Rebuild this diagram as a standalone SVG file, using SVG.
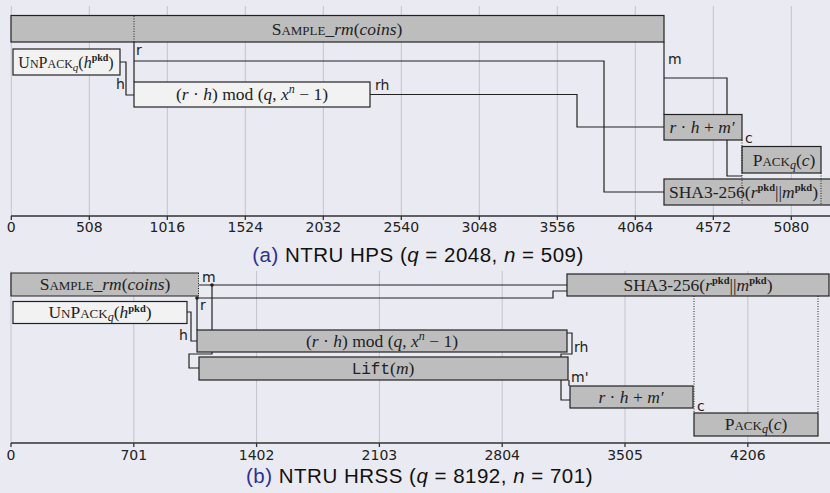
<svg xmlns="http://www.w3.org/2000/svg" width="830" height="493" viewBox="0 0 830 493">
<style>
.grid{stroke:#c4c4cc;stroke-width:1;fill:none}
.axis{stroke:#333;stroke-width:1.3;fill:none}
.tick{font-family:"DejaVu Sans",sans-serif;font-size:14px;fill:#222;text-anchor:middle}
.lbl{font-family:"DejaVu Sans",sans-serif;font-size:14px;fill:#222}
.gbox{fill:#bdbdbd;stroke:#222;stroke-width:1.2}
.lbox{fill:#f2f2f2;stroke:#222;stroke-width:1.2}
.conn{stroke:#222;stroke-width:1.2;fill:none}
.dot{stroke:#222;stroke-width:1;fill:none;stroke-dasharray:1 1.5}
.m{font-family:"Liberation Serif","DejaVu Serif",serif;font-size:17.5px;fill:#222;text-anchor:middle}
.i{font-style:italic}
.sc{font-size:13px}
.sub{font-size:12px;font-style:italic}
.sup{font-family:"Liberation Serif","DejaVu Serif",serif;font-size:10.5px;font-weight:bold}
.tt{font-family:"Liberation Mono","DejaVu Sans Mono",monospace;font-size:16px}
.cap{font-family:"Liberation Sans",Arial,sans-serif;font-size:20.5px;letter-spacing:0.5px;fill:#111;text-anchor:middle}
</style>
<rect width="830" height="493" fill="#eaeaf2"/>

<!-- ===== Top chart (a) ===== -->
<g id="grid-a">
<path class="grid" d="M11.3,6V216M89.3,6V216M167.3,6V216M245.3,6V216M323.3,6V216M401.3,6V216M479.3,6V216M557.3,6V216M635.3,6V216M713.3,6V216M791.3,6V216"/>
<path class="axis" d="M11,216H830M11.3,216v4M89.3,216v4M167.3,216v4M245.3,216v4M323.3,216v4M401.3,216v4M479.3,216v4M557.3,216v4M635.3,216v4M713.3,216v4M791.3,216v4"/>
<text class="tick" x="11.3" y="232">0</text>
<text class="tick" x="89.3" y="232">508</text>
<text class="tick" x="167.3" y="232">1016</text>
<text class="tick" x="245.3" y="232">1524</text>
<text class="tick" x="323.3" y="232">2032</text>
<text class="tick" x="401.3" y="232">2540</text>
<text class="tick" x="479.3" y="232">3048</text>
<text class="tick" x="557.3" y="232">3556</text>
<text class="tick" x="635.3" y="232">4064</text>
<text class="tick" x="713.3" y="232">4572</text>
<text class="tick" x="791.3" y="232">5080</text>
</g>

<g id="connectors-a">
<path class="conn" d="M134,42V82"/>
<path class="conn" d="M134,61H604V192H664"/>
<path class="conn" d="M120,62H126V95H134"/>
<path class="conn" d="M370,94.5H577V127H664"/>
<path class="conn" d="M664,42V114.5"/>
<path class="conn" d="M664,78H727V114.5M727,140V176H742"/>
<text class="lbl" x="136" y="55">r</text>
<text class="lbl" x="116" y="89">h</text>
<text class="lbl" x="375" y="90">rh</text>
<text class="lbl" x="668" y="64">m</text>
<text class="lbl" x="745" y="143">c</text>
</g>

<g id="a-sample">
<rect class="gbox" x="11" y="15.5" width="653" height="26.5"/>
<path class="dot" d="M134,16V42"/>
<text class="m" x="337" y="34.5">S<tspan class="sc">AMPLE</tspan>_<tspan class="i">rm</tspan>(<tspan class="i">coins</tspan>)</text>
</g>
<g id="a-unpack">
<rect class="lbox" x="13" y="49" width="107" height="26"/>
<text class="m" x="66" y="67.5" style="font-size:16px">U<tspan class="sc" style="font-size:12px">N</tspan>P<tspan class="sc" style="font-size:12px">ACK</tspan><tspan class="sub" style="font-size:11px" dy="3">q</tspan><tspan dy="-3">(</tspan><tspan class="i">h</tspan><tspan class="sup" style="font-size:10px" dy="-6.5">pkd</tspan><tspan dy="6.5">)</tspan></text>
</g>
<g id="a-mul">
<rect class="lbox" x="134" y="82" width="236" height="25"/>
<text class="m" x="252" y="100">(<tspan class="i">r</tspan> · <tspan class="i">h</tspan>) mod (<tspan class="i">q</tspan>, <tspan class="i">x</tspan><tspan class="sub" dy="-7">n</tspan><tspan dy="7"> − 1)</tspan></text>
</g>
<g id="a-add">
<rect class="gbox" x="664" y="114.5" width="78" height="25.5"/>
<text class="m" x="702" y="133"><tspan class="i">r</tspan> · <tspan class="i">h</tspan> + <tspan class="i">m′</tspan></text>
</g>
<g id="a-pack">
<rect class="gbox" x="742" y="146.5" width="79" height="26.5"/>
<text class="m" x="784" y="165.5">P<tspan class="sc">ACK</tspan><tspan class="sub" dy="3">q</tspan><tspan dy="-3">(</tspan><tspan class="i">c</tspan>)</text>
</g>
<g id="a-sha3">
<rect class="gbox" x="664" y="179" width="170" height="26"/>
<path class="dot" d="M742,140V205M821,173V205"/>
<text class="m" x="669" y="197.5" style="text-anchor:start">SHA3-256(<tspan class="i">r</tspan><tspan class="sup" dy="-6.5">pkd</tspan><tspan dy="6.5">||</tspan><tspan class="i">m</tspan><tspan class="sup" dy="-6.5">pkd</tspan><tspan dy="6.5">)</tspan></text>
</g>

<text class="cap" x="418" y="262"><tspan fill="#2e3192">(a)</tspan> NTRU HPS (<tspan font-style="italic">q</tspan> = 2048, <tspan font-style="italic">n</tspan> = 509)</text>

<!-- ===== Bottom chart (b) ===== -->
<g id="grid-b">
<path class="grid" d="M11,271V443M133.8,271V443M256.6,271V443M379.4,271V443M502.2,271V443M625,271V443M747.8,271V443"/>
<path class="axis" d="M11,443H830M11,443v4M133.8,443v4M256.6,443v4M379.4,443v4M502.2,443v4M625,443v4M747.8,443v4"/>
<text class="tick" x="11" y="460">0</text>
<text class="tick" x="133.8" y="460">701</text>
<text class="tick" x="256.6" y="460">1402</text>
<text class="tick" x="379.4" y="460">2103</text>
<text class="tick" x="502.2" y="460">2804</text>
<text class="tick" x="625" y="460">3505</text>
<text class="tick" x="747.8" y="460">4206</text>
<path class="dot" d="M694,296V413M818,296V413"/>
</g>

<g id="connectors-b">
<path class="conn" d="M199,285H567"/>
<path class="conn" d="M212,285V330"/>
<path class="conn" d="M197,298H553V291H567"/>
<path class="conn" d="M197,298V330"/>
<path class="conn" d="M187,312H191V341H197"/>
<path class="conn" d="M212,352V354H189V368H199"/>
<path class="conn" d="M567,333H572V354H561V400H570"/>
<path class="conn" d="M569,380V386"/>
<circle cx="212" cy="285" r="1.8" fill="#222"/>
<circle cx="197" cy="298" r="1.8" fill="#222"/>
<text class="lbl" x="202" y="282">m</text>
<text class="lbl" x="200" y="310">r</text>
<text class="lbl" x="179" y="340">h</text>
<text class="lbl" x="574" y="352">rh</text>
<text class="lbl" x="571" y="382">m'</text>
<text class="lbl" x="697" y="411">c</text>
</g>

<g id="b-sample">
<rect x="11" y="273" width="188" height="23" fill="#bdbdbd"/>
<path class="conn" d="M199,273H11V296H199"/>
<path class="dot" d="M198.5,273V296"/>
<text class="m" x="105" y="290">S<tspan class="sc">AMPLE</tspan>_<tspan class="i">rm</tspan>(<tspan class="i">coins</tspan>)</text>
</g>
<g id="b-unpack">
<rect class="lbox" x="13" y="301.5" width="174" height="22"/>
<text class="m" x="100" y="318">U<tspan class="sc">N</tspan>P<tspan class="sc">ACK</tspan><tspan class="sub" dy="3">q</tspan><tspan dy="-3">(</tspan><tspan class="i">h</tspan><tspan class="sup" dy="-6.5">pkd</tspan><tspan dy="6.5">)</tspan></text>
</g>
<g id="b-sha3">
<rect class="gbox" x="567" y="274" width="262" height="22"/>
<text class="m" x="698" y="290.5">SHA3-256(<tspan class="i">r</tspan><tspan class="sup" dy="-6.5">pkd</tspan><tspan dy="6.5">||</tspan><tspan class="i">m</tspan><tspan class="sup" dy="-6.5">pkd</tspan><tspan dy="6.5">)</tspan></text>
</g>
<g id="b-mul">
<rect class="gbox" x="197" y="330" width="370" height="22"/>
<text class="m" x="382" y="346.5">(<tspan class="i">r</tspan> · <tspan class="i">h</tspan>) mod (<tspan class="i">q</tspan>, <tspan class="i">x</tspan><tspan class="sub" dy="-7">n</tspan><tspan dy="7"> − 1)</tspan></text>
</g>
<g id="b-lift">
<rect class="gbox" x="199" y="357" width="369" height="23"/>
<text class="m" x="383" y="374"><tspan class="tt">Lift</tspan>(<tspan class="i">m</tspan>)</text>
</g>
<g id="b-add">
<rect class="gbox" x="570" y="386" width="123" height="22"/>
<text class="m" x="631" y="402.5"><tspan class="i">r</tspan> · <tspan class="i">h</tspan> + <tspan class="i">m′</tspan></text>
</g>
<g id="b-pack">
<rect class="gbox" x="694" y="413" width="124" height="23"/>
<text class="m" x="756" y="430">P<tspan class="sc">ACK</tspan><tspan class="sub" dy="3">q</tspan><tspan dy="-3">(</tspan><tspan class="i">c</tspan>)</text>
</g>

<text class="cap" x="419.5" y="483"><tspan fill="#2e3192">(b)</tspan> NTRU HRSS (<tspan font-style="italic">q</tspan> = 8192, <tspan font-style="italic">n</tspan> = 701)</text>
</svg>
